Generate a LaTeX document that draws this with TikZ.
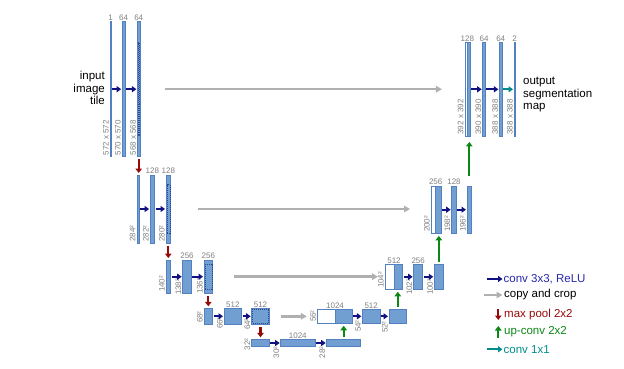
\documentclass[tikz,border=0pt]{standalone}
\usepackage{fontspec}
\setmainfont{Liberation Sans}
\usetikzlibrary{arrows.meta, positioning}
\definecolor{barfill}{RGB}{114,159,210}
\definecolor{barline}{RGB}{82,128,192}
\definecolor{cropline}{RGB}{40,70,150}
\definecolor{lblgray}{RGB}{128,128,128}
\definecolor{convblue}{RGB}{16,16,128}
\definecolor{convtext}{RGB}{40,40,170}
\definecolor{copygray}{RGB}{176,176,176}
\definecolor{poolred}{RGB}{150,10,10}
\definecolor{upgreen}{RGB}{10,135,20}
\definecolor{oneteal}{RGB}{0,140,140}
\tikzset{fmap/.style={draw=barline,fill=barfill,line width=0.5pt,inner sep=0pt,outer sep=0pt},
         wmap/.style={fmap,fill=white},
         croparea/.style={draw=cropline,dash pattern=on 1pt off 1pt,line width=0.6pt,inner sep=0pt},
         chan/.style={text=lblgray,font=\fontsize{8}{9}\selectfont,inner sep=1pt},
         dimlbl/.style={text=lblgray,font=\fontsize{8}{9}\selectfont,rotate=90,anchor=south west,inner sep=1.2pt},
         bigtext/.style={font=\fontsize{11.5}{12.7}\selectfont,inner sep=0pt},
         convarrow/.style={draw=convblue,line width=2pt,-{Triangle[length=4.5pt,width=6pt]},shorten <=1pt,shorten >=1pt},
         onearrow/.style={convarrow,draw=oneteal},
         copyarrow/.style={draw=copygray,line width=2.6pt,-{Triangle[length=6pt,width=6.5pt]}},
         poolarrow/.style={draw=poolred,line width=2.2pt,-{Triangle[length=4.5pt,width=6.5pt]},shorten <=2.5pt,shorten >=2pt},
         uparrow/.style={draw=upgreen,line width=2.2pt,-{Triangle[length=4.5pt,width=6.5pt]},shorten <=2.5pt,shorten >=2.5pt}}

\begin{document}
\begin{tikzpicture}[x=1pt,y=-1pt]
        \useasboundingbox (0,0) rectangle (624,369);
        % contracting path
        \node[fmap,minimum width=1.3pt,minimum height=135pt,label={[chan]above:1}](a1)at(110.7,89.2){};
        \node[fmap,minimum width=2.6pt,minimum height=135pt,label={[chan]above:64}](a2)at(123.5,89.2){};
        \node[fmap,minimum width=2.6pt,minimum height=135pt,label={[chan]above:64}](a3)at(138.7,89.2){};
        \node[croparea,minimum width=0.8pt,minimum height=93pt](a3c)at(a3){};

        \node[fmap,minimum width=2.2pt,minimum height=68pt](b1)at(138,209){};
        \node[fmap,minimum width=4.4pt,minimum height=68pt,label={[chan]above:128}](b2)at(152.3,209){};
        \node[fmap,minimum width=4.6pt,minimum height=68pt,label={[chan]above:128}](b3)at(168.3,209){};
        \node[croparea,minimum width=3pt,minimum height=48.6pt](b3c)at(b3){};

        \node[fmap,minimum width=4.6pt,minimum height=33.3pt](c1)at(168.3,276.7){};
        \node[fmap,minimum width=8.6pt,minimum height=33.3pt,label={[chan]above:256}](c2)at(187,276.7){};
        \node[fmap,minimum width=8.6pt,minimum height=33.3pt,label={[chan]above:256}](c3)at(208.3,276.7){};
        \node[croparea,minimum width=7pt,minimum height=25.5pt](c3c)at(c3){};

        \node[fmap,minimum width=8.6pt,minimum height=16pt](d1)at(208.3,316.3){};
        \node[fmap,minimum width=17.6pt,minimum height=16pt,label={[chan]above:512}](d2)at(232.8,316.3){};
        \node[fmap,minimum width=17.6pt,minimum height=16pt,label={[chan]above:512}](d3)at(260.5,316.3){};
        \node[croparea,minimum width=16pt,minimum height=14pt](d3c)at(d3){};

        \node[fmap,minimum width=17.6pt,minimum height=7.4pt](e1)at(260.5,343){};
        \node[fmap,minimum width=34.3pt,minimum height=7.4pt,label={[chan]above:1024}](e2)at(297.8,343){};
        \node[fmap,minimum width=34pt,minimum height=7.4pt](e3)at(343.7,343){};

        % expansive path
        \node[wmap,minimum width=17.6pt,minimum height=14pt](f0)at(326.2,316.3){};
        \node[fmap,minimum width=17.4pt,minimum height=14pt,label={[chan,anchor=south]north west:1024}](f1)at(343.7,316.3){};
        \node[fmap,minimum width=17.6pt,minimum height=14pt,label={[chan]above:512}](f2)at(371.2,316.3){};
        \node[fmap,minimum width=17.6pt,minimum height=14pt](f3)at(397.8,316.3){};

        \node[wmap,minimum width=9pt,minimum height=25pt](g0)at(389.5,276.8){};
        \node[fmap,minimum width=8.6pt,minimum height=25pt,label={[chan,anchor=south]north west:512}](g1)at(398.3,276.8){};
        \node[fmap,minimum width=9pt,minimum height=25pt,label={[chan]above:256}](g2)at(418.2,276.8){};
        \node[fmap,minimum width=9pt,minimum height=25pt](g3)at(438.8,276.8){};

        \node[wmap,minimum width=4.7pt,minimum height=47.3pt](h0)at(433.35,209.7){};
        \node[fmap,minimum width=5.3pt,minimum height=47.3pt,label={[chan,anchor=south]north west:256}](h1)at(438.35,209.7){};
        \node[fmap,minimum width=4.6pt,minimum height=47.3pt,label={[chan]above:128}](h2)at(454,209.7){};
        \node[fmap,minimum width=4.6pt,minimum height=47.3pt](h3)at(469.3,209.7){};

        \node[wmap,minimum width=2.3pt,minimum height=93.3pt](i0)at(466.1,89.3){};
        \node[fmap,minimum width=2.6pt,minimum height=93.3pt,label={[chan,anchor=south]north west:128}](i1)at(468.6,89.3){};
        \node[fmap,minimum width=2.6pt,minimum height=93.3pt,label={[chan]above:64}](i2)at(484,89.3){};
        \node[fmap,minimum width=2.6pt,minimum height=93.3pt,label={[chan]above:64}](i3)at(500.7,89.3){};
        \node[fmap,minimum width=1.3pt,minimum height=93.3pt,label={[chan]above:2}](i4)at(514.7,89.3){};

        % sizes
        \node[dimlbl](a1d)at(a1.south west){572 x 572};
        \node[dimlbl](a2d)at(a2.south west){570 x 570};
        \node[dimlbl](a3d)at(a3.south west){568 x 568};
        \node[dimlbl](b1d)at(b1.south west){284²};
        \node[dimlbl](b2d)at(b2.south west){282²};
        \node[dimlbl](b3d)at(b3.south west){280²};
        \node[dimlbl](c1d)at(c1.south west){140²};
        \node[dimlbl](c2d)at([yshift=-3pt]c2.south west){138²};
        \node[dimlbl](c3d)at([yshift=-2pt]c3.south west){136²};
        \node[dimlbl](d1d)at(d1.south west){68²};
        \node[dimlbl](d2d)at([yshift=-6pt]d2.south west){66²};
        \node[dimlbl](d3d)at([yshift=-7pt]d3.south west){64²};
        \node[dimlbl](e1d)at([yshift=-5pt]e1.south west){32²};
        \node[dimlbl](e2d)at([yshift=-13pt]e2.south west){30²};
        \node[dimlbl](e3d)at([yshift=-13pt]e3.south west){28²};
        \node[dimlbl](f0d)at(f0.south west){56²};
        \node[dimlbl](f2d)at([yshift=-10pt]f2.south west){54²};
        \node[dimlbl](f3d)at([yshift=-11pt]f3.south west){52²};
        \node[dimlbl](g0d)at(g0.south west){104²};
        \node[dimlbl](g2d)at([yshift=-7pt]g2.south west){102²};
        \node[dimlbl](g3d)at([yshift=-7pt]g3.south west){100²};
        \node[dimlbl](h0d)at(h0.south west){200²};
        \node[dimlbl](h2d)at(h2.south west){198²};
        \node[dimlbl](h3d)at(h3.south west){196²};
        \node[dimlbl](i0d)at(i0.south west){392 x 392};
        \node[dimlbl](i2d)at(i2.south west){390 x 390};
        \node[dimlbl](i3d)at(i3.south west){388 x 388};
        \node[dimlbl](i4d)at(i4.south west){388 x 388};

        \node[bigtext,align=right,anchor=east](input)at(105,88){input\\image\\tile};
        \node[bigtext,align=left,anchor=west](output)at(523,94.5){output\\segmentation\\map};

        % conv 3x3
        \draw[convarrow](a1.east)--(a2.west);
        \draw[convarrow](a2.east)--(a3.west);
        \draw[convarrow](b1.east)--(b2.west);
        \draw[convarrow](b2.east)--(b3.west);
        \draw[convarrow](c1.east)--(c2.west);
        \draw[convarrow](c2.east)--(c3.west);
        \draw[convarrow](d1.east)--(d2.west);
        \draw[convarrow](d2.east)--(d3.west);
        \draw[convarrow](e1.east)--(e2.west);
        \draw[convarrow](e2.east)--(e3.west);
        \draw[convarrow](f1.east)--(f2.west);
        \draw[convarrow](f2.east)--(f3.west);
        \draw[convarrow](g1.east)--(g2.west);
        \draw[convarrow](g2.east)--(g3.west);
        \draw[convarrow](h1.east)--(h2.west);
        \draw[convarrow](h2.east)--(h3.west);
        \draw[convarrow](i1.east)--(i2.west);
        \draw[convarrow](i2.east)--(i3.west);
        \draw[onearrow](i3.east)--(i4.west);

        % max pool and up-conv
        \draw[poolarrow](a3.south)--(a3.south |- b1.north);
        \draw[poolarrow](b3.south)--(b3.south |- c1.north);
        \draw[poolarrow](c3.south)--(c3.south |- d1.north);
        \draw[poolarrow](d3.south)--(d3.south |- e1.north);
        \draw[uparrow](e3.north)--(e3.north |- f1.south);
        \draw[uparrow](f3.north)--(f3.north |- g1.south);
        \draw[uparrow](g3.north)--(g3.north |- h1.south);
        \draw[uparrow,shorten <=10pt,shorten >=6pt](h3.north)--(h3.north |- i1.south);

        % copy and crop
        \draw[copyarrow,shorten <=25pt,shorten >=23pt](a3.east)--(a3.east -| i0.west);
        \draw[copyarrow,shorten <=27pt,shorten >=21pt](b3.east)--(b3.east -| h0.west);
        \draw[copyarrow,shorten <=21pt,shorten >=7pt](c3.east)--(c3.east -| g0.west);
        \draw[copyarrow,shorten <=12pt,shorten >=10.6pt](d3.east)--(d3.east -| f0.west);

        % legend
        \node[bigtext,text=convtext,anchor=west](lconv)at(503.5,279){conv 3x3, ReLU};
        \node[bigtext,anchor=west](lcopy)at(504,295){copy and crop};
        \node[bigtext,text=poolred,anchor=west](lpool)at(504,314.3){max pool 2x2};
        \node[bigtext,text=upgreen,anchor=west](lup)at(504,331.7){up-conv 2x2};
        \node[bigtext,text=oneteal,anchor=west](lone)at(503.5,349.3){conv 1x1};
        \coordinate(lconvs)at(487,279);
        \coordinate(lcopys)at(484,295);
        \coordinate(lpools)at(498.3,309);
        \coordinate(lpoole)at(498.3,320);
        \coordinate(lups)at(498.3,337.5);
        \coordinate(lupe)at(498.3,326);
        \coordinate(lones)at(487,349.3);
        \draw[convarrow,shorten <=0pt,shorten >=1pt](lconvs)--(lconv.west);
        \draw[copyarrow,shorten >=1.5pt](lcopys)--(lcopy.west);
        \draw[poolarrow,shorten <=0pt,shorten >=0pt](lpools)--(lpoole);
        \draw[uparrow,shorten <=0pt,shorten >=0pt](lups)--(lupe);
        \draw[onearrow,shorten <=0pt,shorten >=1pt](lones)--(lone.west);
    \end{tikzpicture}
\end{document}
